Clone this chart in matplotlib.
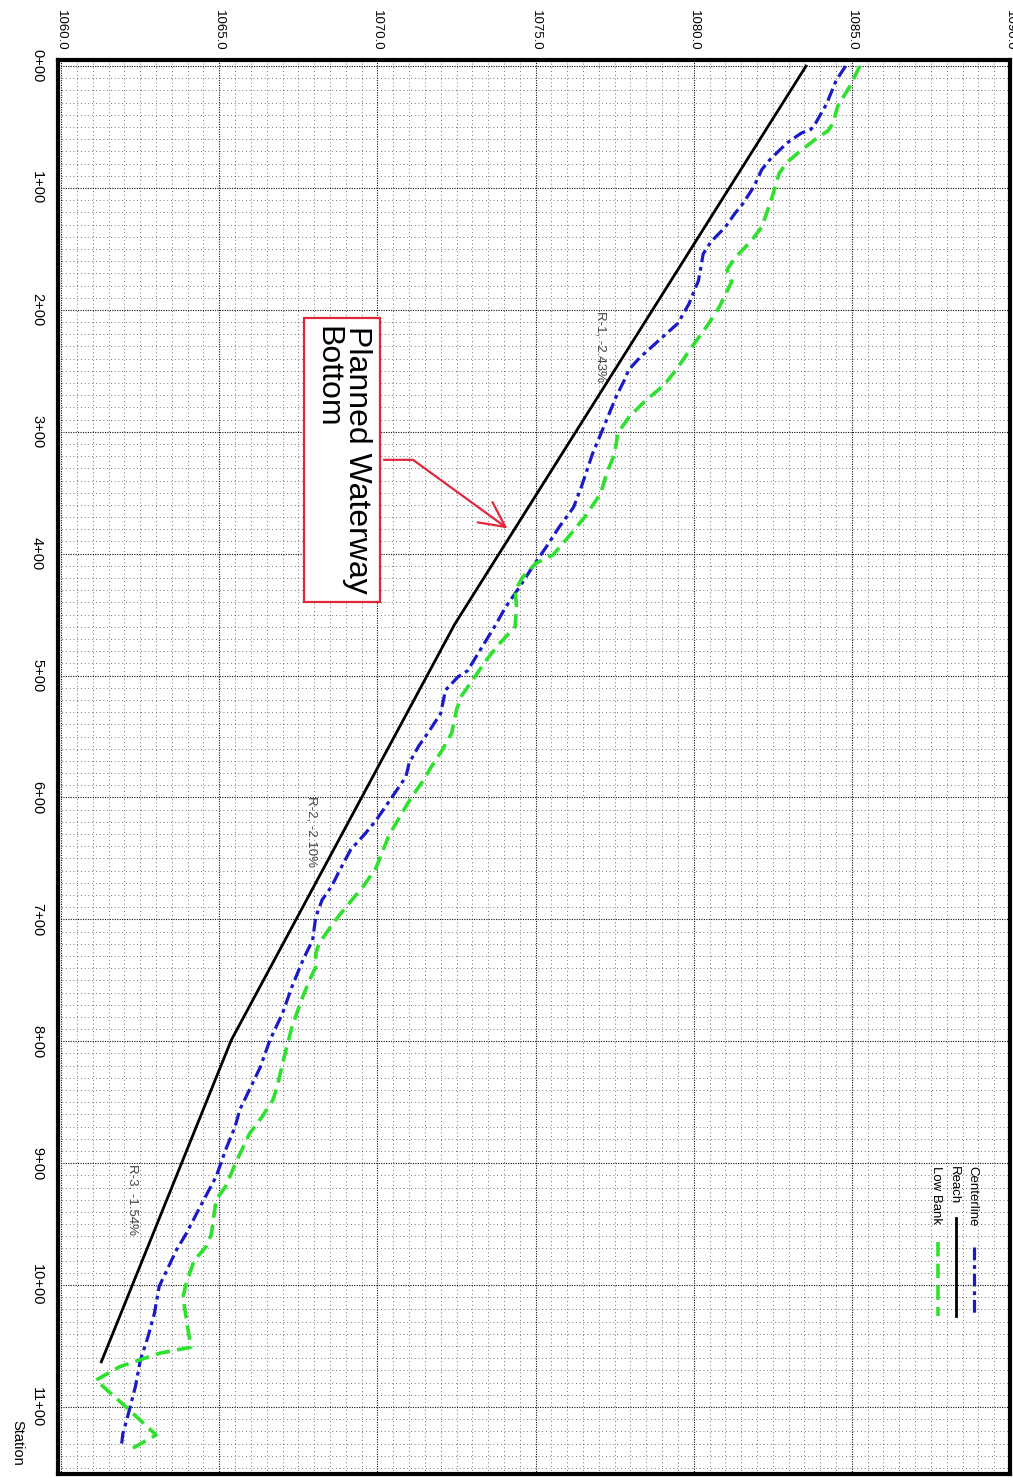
import numpy as np
import matplotlib
matplotlib.use("Agg")
import matplotlib.pyplot as plt

plt.rcParams['font.family'] = ['Liberation Sans', 'DejaVu Sans']

# reach (planned bottom) break points
reach_sta = [0, 458, 799, 1063]
reach_elev = [1083.55, 1072.44, 1065.38, 1061.27]

# centerline profile
cl_sta = [0, 12, 31, 47, 52, 55, 63, 77, 85, 99, 113, 121, 132, 144, 154, 176, 195, 211,
          225, 239, 249, 258, 271, 290, 318, 345, 362, 378, 394, 411, 427, 444, 460, 479,
          496, 501, 512, 531, 545, 558, 572, 583, 602, 619, 630, 643, 660, 673, 684, 698,
          717, 733, 755, 777, 799, 821, 840, 856, 870, 889, 911, 933, 958, 971, 1001, 1023,
          1042, 1062, 1083, 1108, 1122, 1133]
cl_elev = [1084.8, 1084.5, 1084.2, 1083.85, 1083.7, 1083.4, 1082.95, 1082.4, 1082.15,
           1081.9, 1081.55, 1081.3, 1081.0, 1080.55, 1080.3, 1080.15, 1079.85, 1079.5,
           1078.9, 1078.3, 1077.95, 1077.8, 1077.55, 1077.25, 1076.8, 1076.45, 1076.2,
           1075.75, 1075.35, 1074.9, 1074.5, 1074.05, 1073.7, 1073.25, 1072.85, 1072.55,
           1072.15, 1072.0, 1071.65, 1071.3, 1071.0, 1070.9, 1070.4, 1069.95, 1069.6,
           1069.15, 1068.8, 1068.55, 1068.25, 1068.05, 1067.95, 1067.65, 1067.3, 1067.0,
           1066.6, 1066.3, 1065.95, 1065.65, 1065.5, 1065.2, 1064.9, 1064.45, 1063.95,
           1063.65, 1063.1, 1062.95, 1062.75, 1062.5, 1062.35, 1062.1, 1061.95, 1061.9]

# low bank profile
lb_sta = [0, 16, 33, 47, 53, 59, 70, 79, 88, 110, 132, 144, 156, 167, 177, 198, 214, 230,
          249, 262, 275, 288, 301, 318, 334, 351, 370, 389, 401, 408, 419, 430, 444, 460,
          474, 487, 504, 517, 528, 547, 561, 575, 586, 601, 616, 632, 658, 673, 690, 703,
          720, 728, 739, 750, 766, 788, 813, 835, 848, 862, 876, 898, 919, 930, 958, 968,
          980, 999, 1010, 1051, 1056, 1067, 1078, 1100, 1123, 1134]
lb_elev = [1085.25, 1084.95, 1084.55, 1084.4, 1084.25, 1083.9, 1083.35, 1082.95, 1082.7,
           1082.45, 1082.15, 1081.8, 1081.35, 1081.05, 1081.2, 1080.8, 1080.4, 1079.95,
           1079.45, 1079.05, 1078.45, 1077.95, 1077.6, 1077.5, 1077.25, 1077.05, 1076.55,
           1075.95, 1075.55, 1075.0, 1074.6, 1074.35, 1074.4, 1074.35, 1073.85, 1073.45,
           1073.0, 1072.65, 1072.5, 1072.35, 1072.05, 1071.7, 1071.45, 1071.05, 1070.7,
           1070.35, 1069.95, 1069.55, 1069.0, 1068.6, 1068.15, 1068.05, 1068.05, 1067.85,
           1067.6, 1067.3, 1067.05, 1066.85, 1066.7, 1066.35, 1065.95, 1065.55, 1065.2,
           1064.9, 1064.75, 1064.6, 1064.2, 1063.95, 1063.85, 1064.1, 1063.1, 1061.85,
           1061.1, 1062.05, 1063.0, 1062.25]

elev_ticks = [1060, 1065, 1070, 1075, 1080, 1085, 1090]
sta_ticks = list(range(0, 1101, 100))
sta_labels = ['%d+00' % (s // 100) for s in sta_ticks]

# segment labels: (elev, station, text)
reach_labels = [(1077.04, 230, 'R-1, -2.43%'),
                (1067.93, 628, 'R-2, -2.10%'),
                (1062.27, 930, 'R-3, -1.54%')]

W, H = 1013, 1480


def fx(px):
    return px / W


def fy(py):
    return 1 - py / H


fig = plt.figure(figsize=(W / 100, H / 100), dpi=100, facecolor='white')
ax = fig.add_axes([fx(58), 6 / H, (1010 - 58) / W, (1474 - 60) / H])

ax.set_xlim(1059.9, 1090.0)
ax.set_ylim(1155, -5)

# grid
ax.set_xticks(elev_ticks)
ax.set_xticks(np.arange(1060, 1090.01, 0.5), minor=True)
ax.set_yticks(sta_ticks)
ax.set_yticks(np.arange(0, 1151, 10), minor=True)
ax.grid(which='minor', color='#444444', lw=0.6, ls=(0, (1, 3.5)))
ax.grid(which='major', color='#111111', lw=0.8, ls=(0, (1, 1.2)))
ax.set_axisbelow(True)

ax.xaxis.tick_top()
ax.set_xticklabels(['%.1f' % v for v in elev_ticks])
ax.set_yticklabels(sta_labels)
ax.tick_params(which='both', length=0)
ax.tick_params(axis='x', pad=7, labelsize=9.5)
ax.tick_params(axis='y', pad=10, labelsize=10.5)
for lab in ax.get_xticklabels():
    lab.set_rotation(-90)
for lab in ax.get_yticklabels():
    lab.set_rotation(-90)
    lab.set_va('center')

for sp in ax.spines.values():
    sp.set_linewidth(3)
    sp.set_color('black')

# profiles
ax.plot(reach_elev, reach_sta, color='black', lw=2, zorder=3)
ax.plot(cl_elev, cl_sta, color='#1a1ac8', lw=2.3, ls=(0, (4, 1.5, 1.2, 1.5)), zorder=4)
ax.plot(lb_elev, lb_sta, color='#2de12d', lw=2.6, ls=(0, (4, 2)), zorder=4)

for e, s, t in reach_labels:
    ax.text(e, s, t, rotation=-90, ha='center', va='center', fontsize=9.5, color='#444444')

# callout
ax.annotate('Planned Waterway\nBottom', xy=(1074.18, 380.6), xytext=(1068.89, 323),
            rotation=-90, ha='center', va='center', multialignment='left',
            fontsize=23, color='black', linespacing=1.0,
            bbox=dict(boxstyle='square,pad=0.25', fc='white', ec='#e0283c', lw=1.6),
            arrowprops=dict(arrowstyle='->,head_length=0.9,head_width=0.45', color='#e0283c',
                            lw=1.6, mutation_scale=20,
                            connectionstyle='angle,angleA=0,angleB=144,rad=0'),
            zorder=6)

# legend drawn rotated
leg = [('Centerline', 972, 1247, dict(color='#1a1ac8', lw=2.3, ls=(0, (4, 1.5, 1.2, 1.5)))),
       ('Reach', 954, 1218, dict(color='black', lw=2)),
       ('Low Bank', 936, 1242, dict(color='#2de12d', lw=2.6, ls=(0, (4, 2))))]
for name, px, start, style in leg:
    fig.text(fx(px), fy(1166), name, rotation=-90, ha='center', va='top', fontsize=9.5)
    fig.add_artist(plt.Line2D([fx(px + 2), fx(px + 2)], [fy(start), fy(1316)], **style))

fig.text(fx(17), fy(1443), 'Station', rotation=-90, ha='center', va='center', fontsize=10.5)

fig.savefig('out.png', dpi=100, facecolor='white')
